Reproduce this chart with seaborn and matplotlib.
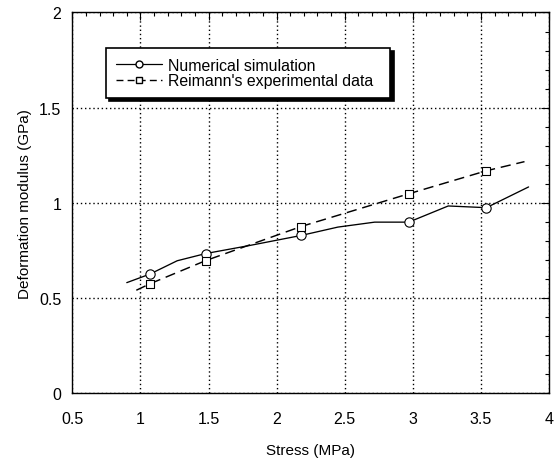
import numpy as np
import pandas as pd
import seaborn as sns
import matplotlib
matplotlib.use("Agg")
import matplotlib.pyplot as plt
from matplotlib.ticker import MultipleLocator, FuncFormatter
from matplotlib.lines import Line2D

# Numerical simulation curve (solid) and its marked points
num_x = [0.90, 1.07, 1.27, 1.48, 1.80, 2.18, 2.45, 2.72, 2.97, 3.26, 3.54, 3.85]
num_y = [0.58, 0.625, 0.695, 0.733, 0.775, 0.828, 0.872, 0.898, 0.898, 0.983, 0.974, 1.083]
num_mx = [1.07, 1.48, 2.18, 2.97, 3.54]
num_my = [0.625, 0.733, 0.828, 0.898, 0.974]

# Reimann's experimental data (dashed) and its marked points
exp_x = [0.97, 1.07, 1.48, 2.18, 2.97, 3.54, 3.82]
exp_y = [0.54, 0.574, 0.696, 0.875, 1.047, 1.168, 1.216]
exp_mx = [1.07, 1.48, 2.18, 2.97, 3.54]
exp_my = [0.574, 0.696, 0.875, 1.047, 1.168]

series_labels = ['Numerical simulation', "Reimann's experimental data"]

sns.set_theme(style="white")
plt.rcParams['font.family'] = ['Liberation Sans', 'DejaVu Sans']

fig = plt.figure(figsize=(5.54, 4.6), dpi=100)
ax = fig.add_axes([0.1305, 0.1435, 0.8605, 0.8272])

sns.lineplot(x=num_x, y=num_y, ax=ax, color='black', lw=0.95, sort=False,
             estimator=None)
sns.lineplot(x=exp_x, y=exp_y, ax=ax, color='black', lw=1.05, sort=False,
             estimator=None, linestyle=(0, (7, 4)))
sns.scatterplot(x=num_mx, y=num_my, ax=ax, marker='o', s=45,
                facecolor='white', edgecolor='black', linewidth=0.8, zorder=5)
sns.scatterplot(x=exp_mx, y=exp_my, ax=ax, marker='s', s=40,
                facecolor='white', edgecolor='black', linewidth=0.8, zorder=5)

ax.set_xlim(0.5, 4)
ax.set_ylim(0, 2)
ax.xaxis.set_major_locator(MultipleLocator(0.5))
ax.yaxis.set_major_locator(MultipleLocator(0.5))
ax.xaxis.set_minor_locator(MultipleLocator(0.1))
ax.yaxis.set_minor_locator(MultipleLocator(0.1))
ax.xaxis.set_major_formatter(FuncFormatter(lambda v, p: f"{v:g}"))
ax.yaxis.set_major_formatter(FuncFormatter(lambda v, p: f"{v:g}"))
ax.tick_params(which='both', direction='in', top=True, right=True, color='black',
               labelsize=11.5, labelcolor='black')
ax.tick_params(axis='y', which='major', pad=8)
ax.tick_params(axis='x', which='major', pad=13)
ax.tick_params(which='major', length=6, width=0.8)
ax.tick_params(which='minor', length=3, width=0.8)
ax.grid(True, which='major', color='black', linestyle=(0, (1, 2)), lw=1.0)
for s in ax.spines.values():
    s.set_color('black')
    s.set_linewidth(1.0)

ax.set_xlabel('Stress (MPa)', fontsize=11, labelpad=12, color='black')
ax.set_ylabel('Deformation modulus (GPa)', fontsize=11, labelpad=5, color='black')

h1 = Line2D([], [], color='black', lw=0.9, marker='o', markersize=5,
            markerfacecolor='white', markeredgecolor='black')
h2 = Line2D([], [], color='black', lw=1.0, linestyle=(0, (5, 3)), marker='s',
            markersize=5, markerfacecolor='white', markeredgecolor='black')
leg = ax.legend([h1, h2], series_labels,
                loc='upper left', bbox_to_anchor=(0.0707, 0.8767, 0.596, 0.03),
                mode='expand', borderaxespad=0,
                fontsize=11.4, frameon=True, fancybox=False,
                shadow={'color': 'black', 'alpha': 1.0, 'ox': 2.5, 'oy': -2.5},
                handlelength=2.9, handletextpad=0.42, borderpad=0.62,
                labelspacing=0.02, edgecolor='black', framealpha=1)
leg.get_frame().set_linewidth(1.2)
for t in leg.get_texts():
    t.set_color('black')

fig.savefig('out.png', dpi=100)
